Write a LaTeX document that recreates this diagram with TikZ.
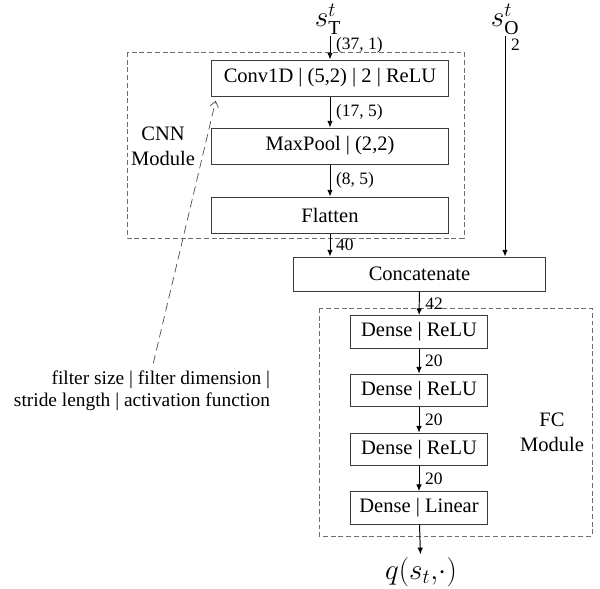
\documentclass[tikz,border=0pt]{standalone}
\usepackage{fontspec}
\setmainfont{Liberation Serif}
\usetikzlibrary{arrows.meta,positioning}
\definecolor{edge}{HTML}{3A3A3A}
\definecolor{frame}{HTML}{6E6E6E}
\tikzset{layer/.style={draw=edge,line width=.7pt,minimum height=.85cm,inner sep=0pt,font=\fontsize{14.6}{17}\selectfont},module/.style={draw=frame,line width=.7pt,dash pattern=on 3.5pt off 2pt},flow/.style={draw=black,line width=.7pt,-{Latex[length=4.8pt,width=4pt]}},pointer/.style={draw=black!70,line width=.5pt,dash pattern=on 6pt off 3.5pt,-{Straight Barb[length=4pt,width=6pt]}},dimlabel/.style={font=\fontsize{12.4}{14}\selectfont,anchor=west,inner sep=1pt},modlabel/.style={font=\fontsize{14.6}{17.5}\selectfont,align=center},statelabel/.style={font=\fontsize{20}{24}\selectfont,inner sep=1pt}}

\begin{document}
\begin{tikzpicture}[x=.025cm,y=-.025cm]
\useasboundingbox (0,0) rectangle (600,588);
% CNN module
\draw[module] (127,52) rectangle (464,238);
\node[modlabel] (cnnlab) at (163,146) {CNN\\Module};
\node[statelabel] (sT) at (328,19) {$s_{\mathrm{T}}^{t}$};
\node[layer,minimum width=5.9cm,minimum height=.9cm] (conv) at (330,78) {Conv1D | (5,2) | 2 | ReLU};
\node[layer,minimum width=5.9cm,minimum height=.9cm] (pool) at (330,146) {MaxPool | (2,2)};
\node[layer,minimum width=5.9cm,minimum height=.9cm] (flat) at (330,215) {Flatten};
\draw[flow] (sT.south -| conv) -- (conv) node[pos=.4,dimlabel,xshift=3pt] (d0) {(37, 1)};
\draw[flow] (conv) -- (pool) node[midway,dimlabel,xshift=3pt] (d1) {(17, 5)};
\draw[flow] (pool) -- (flat) node[midway,dimlabel,xshift=3pt] (d2) {(8, 5)};
% other input
\node[statelabel] (sO) at (505,19) {$s_{\mathrm{O}}^{t}$};
\node[layer,minimum width=6.275cm] (concat) at (419.5,274) {Concatenate};
\draw[flow] (flat) -- (flat |- concat.north) node[midway,dimlabel,xshift=3pt] (d3) {40};
\draw[flow] (sO) -- (sO |- concat.north) node[pos=.04,dimlabel,xshift=3pt] (d4) {2};
% FC module
\draw[module] (319,308) rectangle (592,536);
\node[modlabel] (fclab) at (552,432) {FC\\Module};
\foreach \i/\y/\act in {1/332/ReLU,2/390.5/ReLU,3/449.5/ReLU,4/508/Linear}
  \node[layer,minimum width=3.4cm,minimum height=.82cm] (dense\i) at (419,\y) {Dense | \act};
\draw[flow] (concat) -- (dense1) node[midway,dimlabel,xshift=3pt] {42};
\foreach \i/\j in {1/2,2/3,3/4}
  \draw[flow] (dense\i) -- (dense\j) node[midway,dimlabel,xshift=3pt] {20};
\node[statelabel,inner ysep=2pt] (q) at (421,572) {$q(s_t{,}\cdot)$};
\draw[flow] (dense4) -- (q);
% annotation
\node[font=\fontsize{13.8}{15.5}\selectfont,align=right] (note) at (142,391) {filter size | filter dimension |\\stride length | activation function};
\draw[pointer] ([xshift=8pt,yshift=2pt]note.north) -- ([xshift=3pt,yshift=-3pt]conv.south west);
\end{tikzpicture}
\end{document}
